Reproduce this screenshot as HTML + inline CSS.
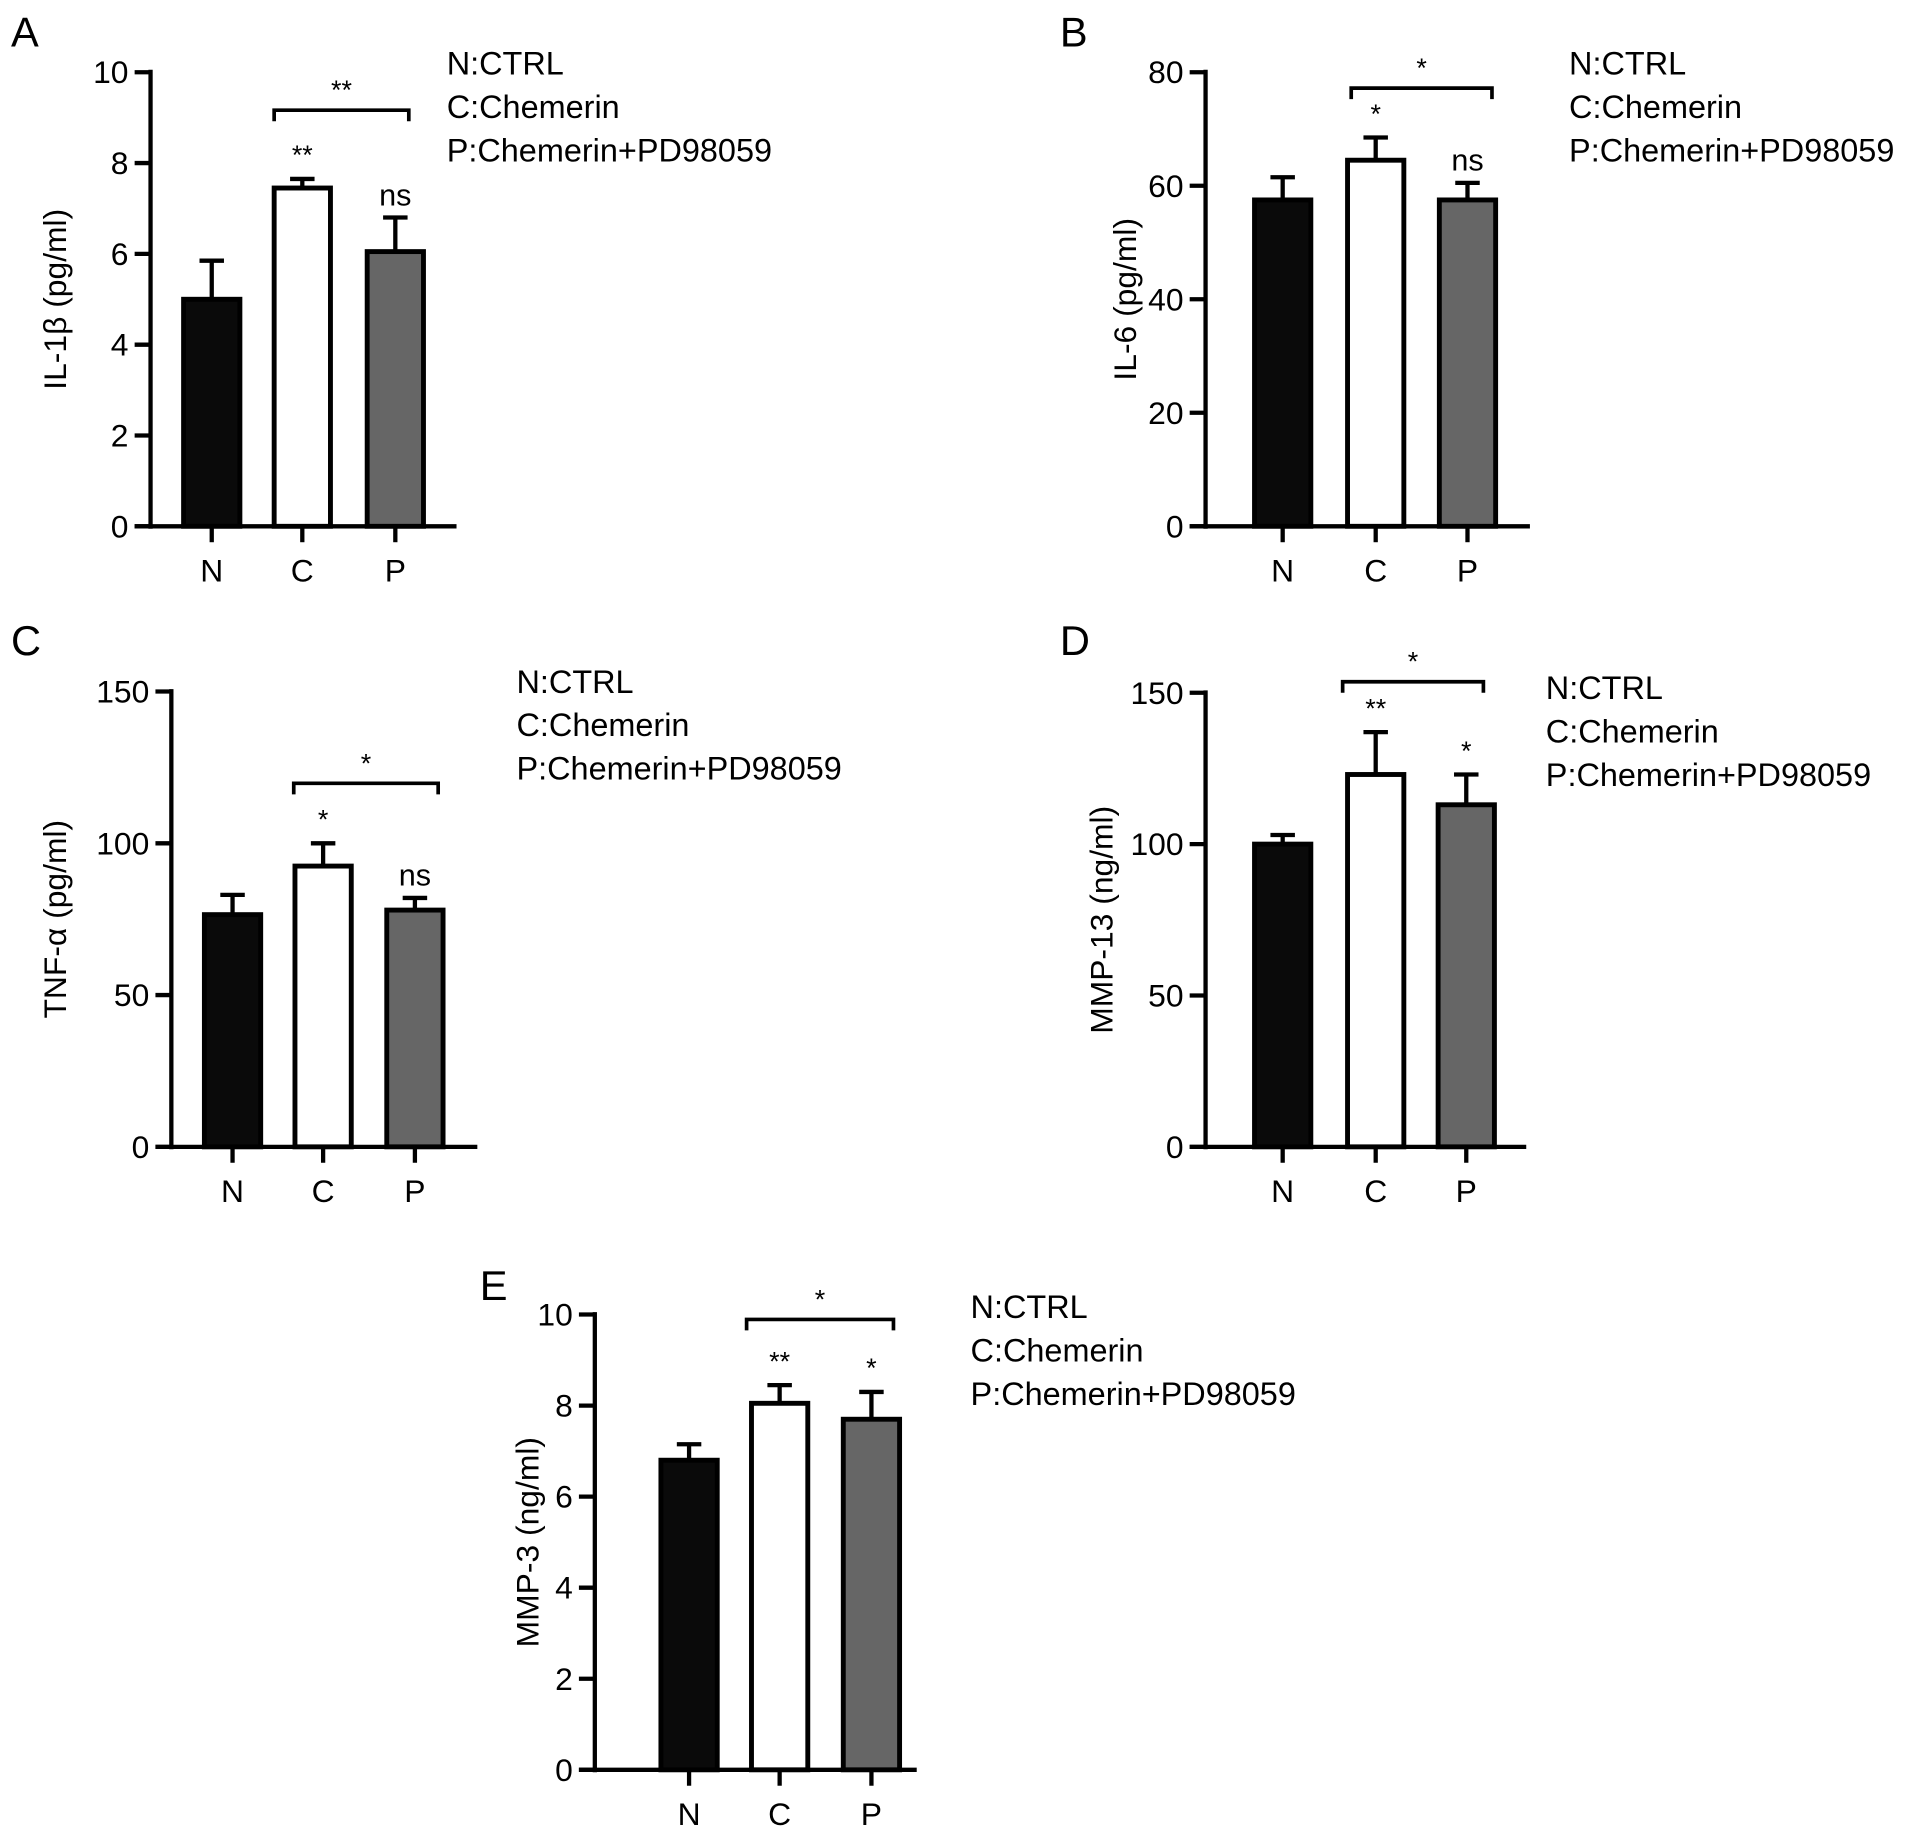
<!DOCTYPE html>
<html><head><meta charset="utf-8"><style>
html,body{margin:0;padding:0;background:#fff;}
svg{display:block;font-family:"Liberation Sans",sans-serif;}
</style></head><body>
<svg id="fig" width="1913" height="1833" viewBox="0 0 1563 1497.6" xmlns="http://www.w3.org/2000/svg"></svg>
<script>
const categories = ["N","C","P"];
const legendLines = ["N:CTRL","C:Chemerin","P:Chemerin+PD98059"];
const valuesA = [5.0, 7.45, 6.05];
const errorsA = [5.85, 7.65, 6.8];
const ticksA = [0,2,4,6,8,10];
const sigA = ["", "**", "ns"];
const valuesB = [57.5, 64.5, 57.5];
const errorsB = [61.5, 68.5, 60.5];
const ticksB = [0,20,40,60,80];
const sigB = ["", "*", "ns"];
const valuesC = [76.5, 92.5, 78];
const errorsC = [83, 100, 82];
const ticksC = [0,50,100,150];
const sigC = ["", "*", "ns"];
const valuesD = [100, 123, 113];
const errorsD = [103, 137, 123];
const ticksD = [0,50,100,150];
const sigD = ["", "**", "*"];
const valuesE = [6.8, 8.05, 7.7];
const errorsE = [7.15, 8.45, 8.3];
const ticksE = [0,2,4,6,8,10];
const sigE = ["", "**", "*"];
const fills = ["#0a0a0a","#ffffff","#666666"];

const NS = "http://www.w3.org/2000/svg";
const svg = document.getElementById("fig");
function mk(tag, attrs, parent, text){
  const e = document.createElementNS(NS, tag);
  for (const k in attrs) e.setAttribute(k, attrs[k]);
  if (text !== undefined) e.textContent = text;
  (parent||svg).appendChild(e);
  return e;
}
function panel(p){
  const g = mk("g", {});
  
  
  const max = p.ticks[p.ticks.length-1];
  const y = v => p.y0 - (v/max)*(p.y0 - p.yTop);
  const lt = mk("text", {x:p.lx, y:p.ly, "font-size":34}, g, p.letter);
  
  
  const ya = mk("line", {x1:p.ax, y1:p.yTop-2, x2:p.ax, y2:p.y0+2, stroke:"#000","stroke-width":3.5}, g);
  
  
  const xa = mk("line", {x1:p.ax-13, y1:p.y0, x2:p.xEnd, y2:p.y0, stroke:"#000","stroke-width":3.5}, g);
  
  
  p.ticks.forEach(t=>{
    mk("line",{x1:p.ax-13,y1:y(t),x2:p.ax,y2:y(t),stroke:"#000","stroke-width":3.5},g);
    const tl = mk("text",{x:p.ax-18,y:y(t)+9,"font-size":26,"text-anchor":"end"},g,String(t));
    
    
  });
  const yl = mk("text",{x:0,y:0,"font-size":26,"text-anchor":"middle",transform:`translate(${p.ylx},${(p.y0+p.yTop)/2}) rotate(-90)`},g,p.ylabel);
  
  
  const bw = 46;
  categories.forEach((c,i)=>{
    const cx = p.cx[i];
    mk("line",{x1:cx,y1:p.y0,x2:cx,y2:p.y0+13,stroke:"#000","stroke-width":3.5},g);
    const xl = mk("text",{x:cx,y:p.y0+45,"font-size":26,"text-anchor":"middle"},g,c);
    
    
    const vy = y(p.values[i]), ey = y(p.errors[i]);
    const el = mk("line",{x1:cx,y1:ey,x2:cx,y2:vy,stroke:"#000","stroke-width":3.5},g);
    
    
    mk("line",{x1:cx-10,y1:ey,x2:cx+10,y2:ey,stroke:"#000","stroke-width":3.5},g);
    const b = mk("rect",{x:cx-bw/2,y:vy,width:bw,height:p.y0-vy,fill:fills[i],stroke:"#000","stroke-width":4},g);
    
    
    if (p.sig[i]) {
      const isStar = p.sig[i] !== "ns";
      const s = mk("text",{x:cx,y:ey-(isStar?12:10),"font-size":isStar?22:25,"text-anchor":"middle"},g,p.sig[i]);
      
      
    }
  });
  const br = mk("path",{d:`M${p.bx1},${p.by+9}V${p.by}H${p.bx2}V${p.by+9}`,fill:"none",stroke:"#000","stroke-width":3},g);
  
  
  const bs = mk("text",{x:(p.bx1+p.bx2)/2,y:p.by-9,"font-size":22,"text-anchor":"middle"},g,p.bsig);
  
  
  legendLines.forEach((L,k)=>{
    const t = mk("text",{x:p.legx,y:p.legy+k*35.5,"font-size":26.5},g,L);
    
    
  });
}
panel({letter:"A",lx:9,ly:38,ax:123,yTop:59,y0:430,xEnd:373,cx:[173,247,323],values:valuesA,errors:errorsA,ticks:ticksA,sig:sigA,ylabel:"IL-1β (pg/ml)",ylx:54,bx1:224,bx2:334,by:90,bsig:"**",legx:365,legy:61});
panel({letter:"B",lx:866,ly:38,ax:985,yTop:59,y0:430,xEnd:1250,cx:[1048,1124,1199],values:valuesB,errors:errorsB,ticks:ticksB,sig:sigB,ylabel:"IL-6 (pg/ml)",ylx:928,bx1:1104,bx2:1219,by:72,bsig:"*",legx:1282,legy:61});
panel({letter:"C",lx:9,ly:535,ax:140,yTop:565,y0:937,xEnd:390,cx:[190,264,339],values:valuesC,errors:errorsC,ticks:ticksC,sig:sigC,ylabel:"TNF-α (pg/ml)",ylx:54,bx1:240,bx2:358,by:640,bsig:"*",legx:422,legy:566});
panel({letter:"D",lx:866,ly:535,ax:985,yTop:566,y0:937,xEnd:1247,cx:[1048,1124,1198],values:valuesD,errors:errorsD,ticks:ticksD,sig:sigD,ylabel:"MMP-13 (ng/ml)",ylx:909,bx1:1097,bx2:1212,by:557,bsig:"*",legx:1263,legy:571});
panel({letter:"E",lx:392,ly:1062,ax:486,yTop:1074,y0:1446,xEnd:749,cx:[563,637,712],values:valuesE,errors:errorsE,ticks:ticksE,sig:sigE,ylabel:"MMP-3 (ng/ml)",ylx:440,bx1:610,bx2:730,by:1078,bsig:"*",legx:793,legy:1077});
</script>
</body></html>
